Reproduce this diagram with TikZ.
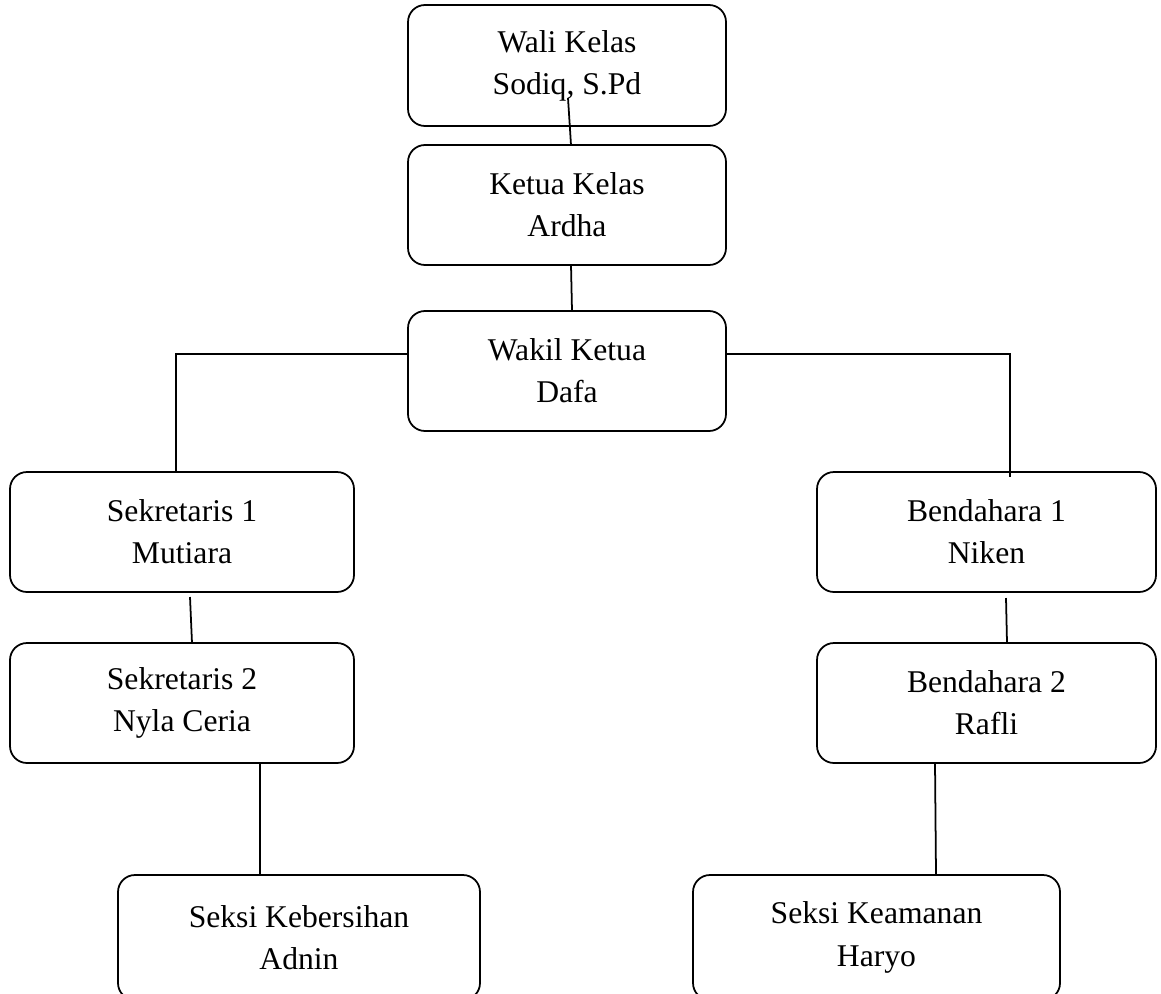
\documentclass[tikz,border=0pt]{standalone}
\usepackage{fontspec}
\setmainfont{Liberation Serif}
\begin{document}
\begin{tikzpicture}[
  box/.style={draw, line width=1pt, rounded corners=0.34cm, align=center,
    inner sep=0pt, outer sep=0pt, minimum height=2.4cm,
    font=\fontsize{18}{24}\selectfont},
  link/.style={line width=1pt}
]
\useasboundingbox (0,0) rectangle (23.22,-19.86);

% Top boxes
\node[box, minimum width=6.36cm, minimum height=2.42cm] (wali) at (11.34,-1.31) {Wali Kelas\\Sodiq, S.Pd};
\node[box, minimum width=6.36cm] (ketua) at (11.34,-4.10) {Ketua Kelas\\Ardha};
\node[box, minimum width=6.36cm] (wakil) at (11.34,-7.42) {Wakil Ketua\\Dafa};

% Left and right columns
\node[box, minimum width=6.88cm] (sek1) at (3.64,-10.64) {Sekretaris 1\\Mutiara};
\node[box, minimum width=6.88cm] (sek2) at (3.64,-14.06) {Sekretaris 2\\Nyla Ceria};
\node[box, minimum width=6.78cm] (ben1) at (19.73,-10.64) {Bendahara 1\\Niken};
\node[box, minimum width=6.78cm] (ben2) at (19.73,-14.06) {Bendahara 2\\Rafli};

% Bottom boxes
\node[box, minimum width=7.24cm, minimum height=2.5cm] (bersih) at (5.98,-18.75) {Seksi Kebersihan\\Adnin};
\node[box, minimum width=7.34cm, minimum height=2.5cm] (aman) at (17.53,-18.75) {Seksi Keamanan\\Haryo};

% Connectors
\draw[link] ([xshift=0.02cm, yshift=0.56cm]wali.south) -- ([xshift=0.08cm]ketua.north);
\draw[link] ([xshift=0.08cm]ketua.south) -- ([xshift=0.10cm]wakil.north);
\draw[link] ([yshift=0.34cm]wakil.west) -| ([xshift=-0.12cm]sek1.north);
\draw[link] ([yshift=0.34cm]wakil.east) -| ([xshift=0.47cm, yshift=-0.1cm]ben1.north);
\draw[link] ([xshift=0.16cm, yshift=-0.1cm]sek1.south) -- ([xshift=0.20cm]sek2.north);
\draw[link] ([xshift=0.39cm, yshift=-0.12cm]ben1.south) -- ([xshift=0.41cm]ben2.north);
\draw[link] ([xshift=1.56cm]sek2.south) -- ([xshift=-0.78cm]bersih.north);
\draw[link] ([xshift=-1.03cm]ben2.south) -- ([xshift=1.19cm]aman.north);

\end{tikzpicture}
\end{document}
